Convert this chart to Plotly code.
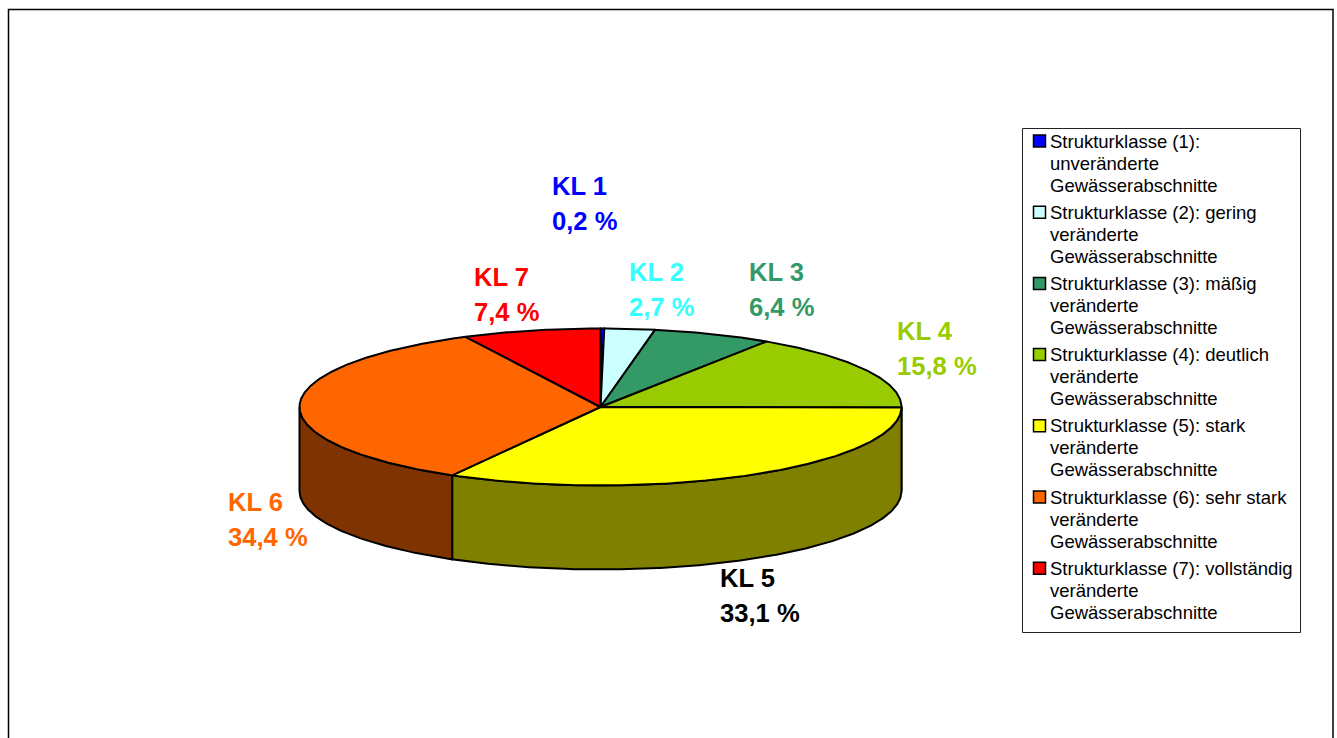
import numpy as np
import plotly.graph_objects as go

# Data
categories = ["KL 1", "KL 2", "KL 3", "KL 4", "KL 5", "KL 6", "KL 7"]
shares = [0.2, 2.7, 6.4, 15.8, 33.1, 34.4, 7.4]
value_labels = ["0,2 %", "2,7 %", "6,4 %", "15,8 %", "33,1 %", "34,4 %", "7,4 %"]
legend_entries = [
    ["Strukturklasse (1):", "unveränderte", "Gewässerabschnitte"],
    ["Strukturklasse (2): gering", "veränderte", "Gewässerabschnitte"],
    ["Strukturklasse (3): mäßig", "veränderte", "Gewässerabschnitte"],
    ["Strukturklasse (4): deutlich", "veränderte", "Gewässerabschnitte"],
    ["Strukturklasse (5): stark", "veränderte", "Gewässerabschnitte"],
    ["Strukturklasse (6): sehr stark", "veränderte", "Gewässerabschnitte"],
    ["Strukturklasse (7): vollständig", "veränderte", "Gewässerabschnitte"],
]

# Style
slice_colors = ["#0000FF", "#CCFFFF", "#339966", "#99CC00", "#FFFF00", "#FF6600", "#FF0000"]
label_colors = ["#0000FF", "#33FFFF", "#339966", "#99CC00", "#000000", "#FF6600", "#FF0000"]
label_pos = [(552, 186), (629, 272), (749, 272), (897, 331), (720, 578), (228, 502), (474, 277)]
LABEL_PITCH = 34.5
CX, CY, RX, RY, DEPTH = 600.5, 407, 301, 78.5, 84
FONT = "Liberation Sans, Arial, sans-serif"


def darker(hex_color):
    r, g, b = (int(hex_color[i:i + 2], 16) // 2 for i in (1, 3, 5))
    return f"rgb({r},{g},{b})"


def arc(a, b, dy=0.0):
    n = max(3, int(abs(b - a) * 120) + 2)
    t = np.linspace(a, b, n)
    return CX + RX * np.sin(t), CY - RY * np.cos(t) + dy


fig = go.Figure()
edges = 2 * np.pi * np.concatenate([[0], np.cumsum(shares)]) / sum(shares)
LINE = dict(color="black", width=2)

# Rim (only the front half of the disc is visible)
for i, cat in enumerate(categories):
    a, b = max(edges[i], np.pi / 2), min(edges[i + 1], 3 * np.pi / 2)
    if b <= a:
        continue
    x1, y1 = arc(a, b)
    x2, y2 = arc(b, a, DEPTH)
    fig.add_trace(go.Scatter(x=np.r_[x1, x2, x1[0]], y=np.r_[y1, y2, y1[0]], mode="lines",
                             fill="toself", fillcolor=darker(slice_colors[i]), line=LINE,
                             hoverinfo="skip", showlegend=False))

# Top of the disc
for i, cat in enumerate(categories):
    x1, y1 = arc(edges[i], edges[i + 1])
    fig.add_trace(go.Scatter(x=np.r_[CX, x1, CX], y=np.r_[CY, y1, CY], mode="lines",
                             fill="toself", fillcolor=slice_colors[i], line=LINE,
                             name=cat, text=value_labels[i], hoverinfo="name+text", showlegend=False))

annotations = []
for cat, val, col, (x, y) in zip(categories, value_labels, label_colors, label_pos):
    for k, txt in enumerate((cat, val)):
        annotations.append(dict(x=x, y=y + k * LABEL_PITCH, text=f"<b>{txt}</b>", showarrow=False, xanchor="left",
                                yanchor="middle", xshift=-2, font=dict(family=FONT, size=25.6, color=col)))

# Legend
LEG_Y0, LEG_STEP, LEG_LINE = 141, 71.2, 22
sw_y = []
for i, lines in enumerate(legend_entries):
    y0 = LEG_Y0 + i * LEG_STEP
    sw_y.append(y0)
    for k, txt in enumerate(lines):
        annotations.append(dict(x=1050, y=y0 + k * LEG_LINE, text=txt, showarrow=False, xanchor="left",
                                yanchor="middle", xshift=-2, font=dict(family=FONT, size=18.5, color="black")))
fig.add_trace(go.Scatter(x=[1039.5] * len(sw_y), y=sw_y, mode="markers", hoverinfo="skip", showlegend=False,
                         marker=dict(symbol="square", size=12, color=slice_colors,
                                     line=dict(color="black", width=1.5))))

shapes = [
    dict(type="rect", x0=8.5, x1=1333, y0=9.5, y1=770, line=dict(color="black", width=1.5), layer="below"),
    dict(type="rect", x0=1022.5, x1=1300.5, y0=128.5, y1=632.5, line=dict(color="#222222", width=1), layer="below"),
]

fig.update_layout(
    width=1337, height=738, margin=dict(l=0, r=0, t=0, b=0),
    paper_bgcolor="white", plot_bgcolor="white", showlegend=False,
    xaxis=dict(range=[0, 1337], visible=False, fixedrange=True),
    yaxis=dict(range=[738, 0], visible=False, fixedrange=True),
    annotations=annotations, shapes=shapes,
)
fig.write_html("out.html", config=dict(displayModeBar=False),
               post_script="document.body.style.margin='0';document.documentElement.style.overflow='hidden';")
